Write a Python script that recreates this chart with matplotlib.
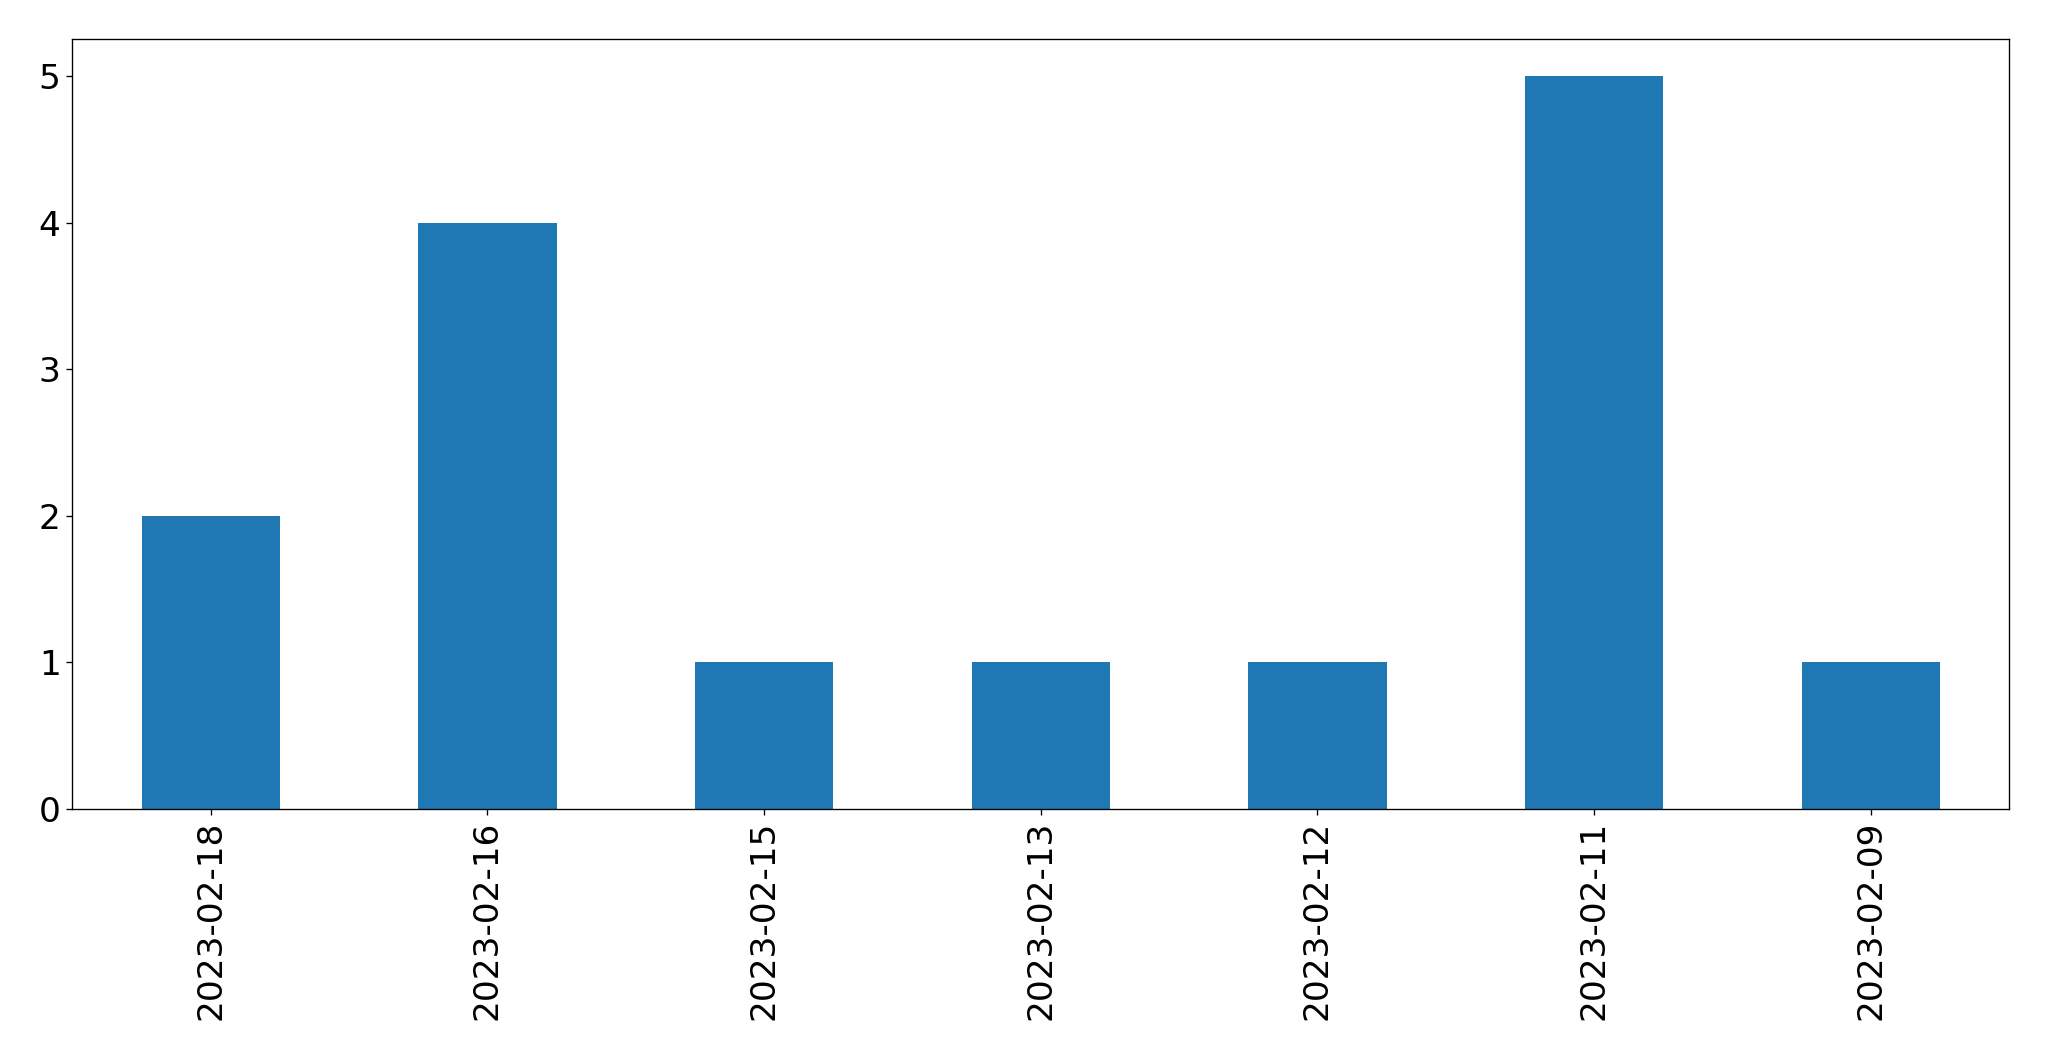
import pandas as pd
import matplotlib
matplotlib.use("Agg")
import matplotlib.pyplot as plt

# Data
dates = ["2023-02-18", "2023-02-16", "2023-02-15", "2023-02-13",
         "2023-02-12", "2023-02-11", "2023-02-09"]
counts = [2, 4, 1, 1, 1, 5, 1]

series = pd.Series(counts, index=dates)

fig = plt.figure(figsize=(2049 / 120, 1061 / 120), dpi=120)
ax = fig.add_axes([0.0353, 0.2375, 0.9453, 0.7255])
series.plot(kind="bar", ax=ax, color="#1f77b4")

ax.tick_params(axis="both", labelsize=20.6)
ax.set_xlabel("")

fig.savefig("out.png", dpi=120)
